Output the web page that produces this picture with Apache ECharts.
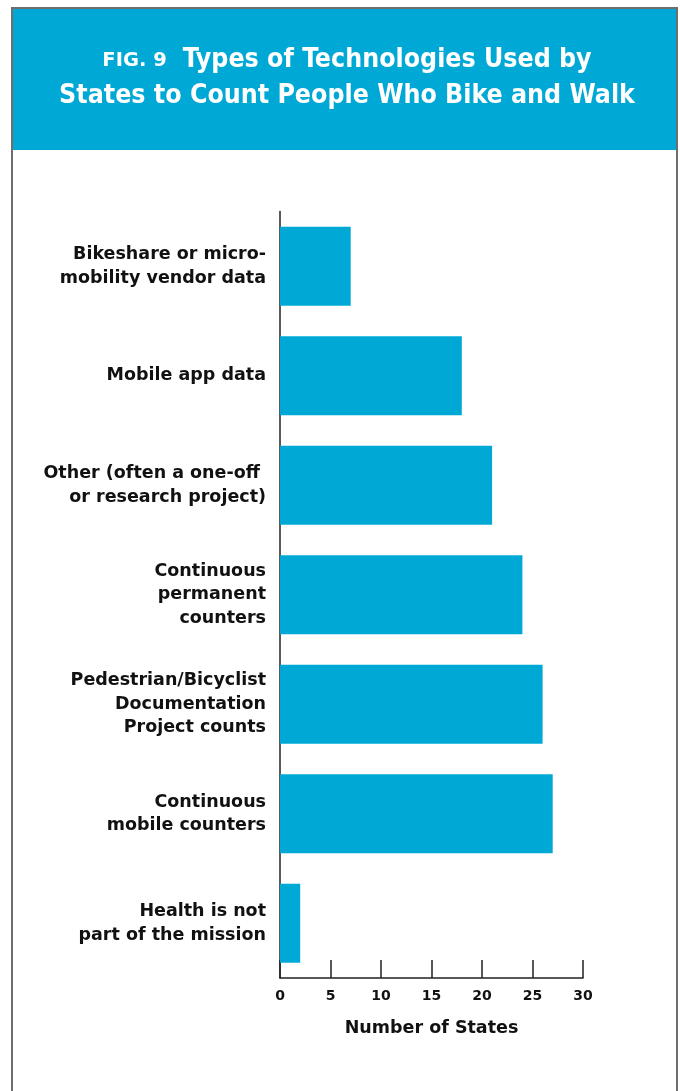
<!DOCTYPE html>
<html>
<head>
<meta charset="utf-8">
<script src="https://cdn.jsdelivr.net/npm/echarts@6/dist/echarts.min.js"></script>
<style>
  html, body { margin: 0; padding: 0; background: #fff; }
  #chart { width: 680px; height: 1091px; }
</style>
</head>
<body>
<div id="chart"></div>
<script>
// Technologies states use to count people who bike and walk
const categories = [
  'Bikeshare or micro-\nmobility vendor data',
  'Mobile app data',
  'Other (often a one-off \nor research project)',
  'Continuous\npermanent\ncounters',
  'Pedestrian/Bicyclist\nDocumentation\nProject counts',
  'Continuous\nmobile counters',
  'Health is not\npart of the mission'
];
const stateCounts = [7, 18, 21, 24, 26, 27, 2];
const xTicks = [0, 5, 10, 15, 20, 25, 30];

const BLUE = '#00A8D6';
const TITLE_FONT = '"DejaVu Sans Condensed", "DejaVu Sans", sans-serif';
const FONT = '"DejaVu Sans", sans-serif';

const chart = echarts.init(document.getElementById('chart'));
chart.setOption({
  backgroundColor: '#fff',
  animation: false,
  graphic: [
    // frame around the figure
    { type: 'rect', shape: { x: 12, y: 8, width: 665, height: 1100 },
      style: { fill: 'none', stroke: '#6e6e6e', lineWidth: 2 }, z: 0 },
    // header band
    { type: 'rect', shape: { x: 13, y: 9, width: 663, height: 141 },
      style: { fill: BLUE }, z: 1 },
    // header title, two lines centred in the band
    {
      type: 'text', z: 2,
      x: 347, y: 78,
      style: {
        text: '{fig|FIG. 9}{main|Types of Technologies Used by}\n{main|States to Count People Who Bike and Walk}',
        align: 'center',
        verticalAlign: 'middle',
        rich: {
          fig: { fontFamily: FONT, fontWeight: 'bold', fontSize: 19.5, fill: '#fff', lineHeight: 36, padding: [2, 16, 0, 0] },
          main: { fontFamily: TITLE_FONT, fontWeight: 'bold', fontSize: 26.5, fill: '#fff', lineHeight: 36 }
        }
      }
    }
  ],
  grid: { left: 280, right: 97, top: 211.5, bottom: 113 },
  xAxis: {
    type: 'value',
    min: 0, max: 30, interval: 5,
    name: 'Number of States',
    nameLocation: 'middle',
    nameGap: 41,
    nameTextStyle: { fontFamily: FONT, fontWeight: 'bold', fontSize: 17.5, color: '#111' },
    axisLine: { show: true, lineStyle: { color: '#222', width: 1.5 } },
    axisTick: { show: true, inside: true, length: 18, lineStyle: { color: '#222', width: 1.5 } },
    axisLabel: {
      margin: 11,
      fontFamily: FONT, fontWeight: 'bold', fontSize: 14, color: '#111',
      formatter: v => xTicks.includes(v) ? String(v) : ''
    },
    splitLine: { show: false }
  },
  yAxis: {
    type: 'category',
    inverse: true,
    data: categories,
    axisLine: { show: true, lineStyle: { color: '#222', width: 1.5 } },
    axisTick: { show: false },
    axisLabel: {
      margin: 14,
      fontFamily: FONT, fontWeight: 'bold', fontSize: 17.5, lineHeight: 23.5,
      color: '#111', align: 'right'
    }
  },
  series: [{
    type: 'bar',
    data: stateCounts,
    barCategoryGap: '28%',
    itemStyle: { color: BLUE },
    silent: true
  }]
});
</script>
</body>
</html>
